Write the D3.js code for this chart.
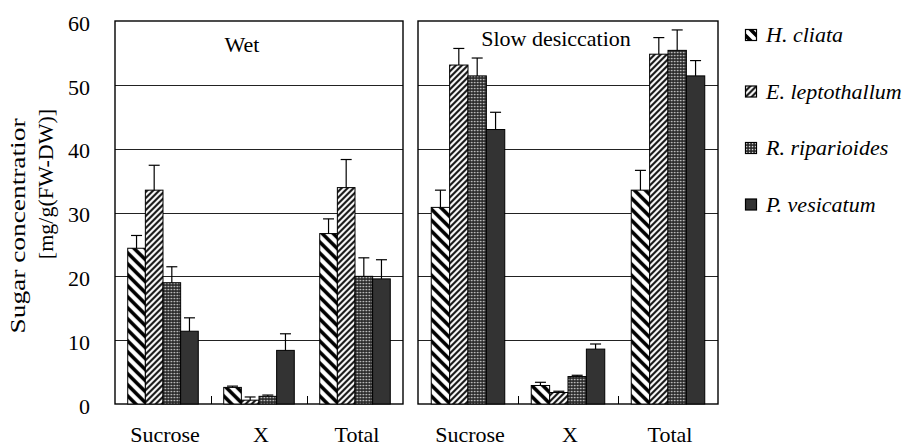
<!DOCTYPE html>
<html>
<head>
<meta charset="utf-8">
<script src="https://cdn.jsdelivr.net/npm/d3@7"></script>
<style>
  body { margin: 0; background: #fff; }
  svg text { font-family: "Liberation Serif", "DejaVu Serif", serif !important; fill: #000; }
</style>
</head>
<body>
<svg width="910" height="448"></svg>
<script>
/* data */
const categories = ["Sucrose", "X", "Total"];
const species = ["H. cliata", "E. leptothallum", "R. riparioides", "P. vesicatum"];
const panelTitles = ["Wet", "Slow desiccation"];
const yTicks = [0, 10, 20, 30, 40, 50, 60];

// one row per category, one value per species
const wetMeans   = [[24.4, 33.5, 19.0, 11.4], [2.6, 0.6, 1.2, 8.4], [26.7, 33.9, 20.0, 19.6]];
const wetErrors  = [[2.0, 3.9, 2.5, 2.1], [0.2, 0.5, 0.2, 2.6], [2.3, 4.4, 2.9, 3.0]];
const slowMeans  = [[30.8, 53.1, 51.4, 43.0], [2.9, 1.8, 4.3, 8.6], [33.5, 54.8, 55.4, 51.4]];
const slowErrors = [[2.7, 2.6, 2.8, 2.7], [0.5, 0.2, 0.2, 0.8], [3.1, 2.6, 3.2, 2.4]];

/* basic setup */
const svg = d3.select("svg");
const y = d3.scaleLinear().domain([0, 60]).range([404, 21]);
const px = v => Math.round(v) + 0.5;
const serif = "'Liberation Serif', 'DejaVu Serif', serif";

// fill patterns for the four species
const defs = svg.append("defs");
let p = defs.append("pattern").attr("id", "pat0").attr("patternUnits", "userSpaceOnUse")
    .attr("width", 11).attr("height", 11);
p.append("rect").attr("width", 11).attr("height", 11).attr("fill", "#fff");
p.append("path").attr("d", "M0,0L11,11M-5.5,5.5L5.5,16.5M5.5,-5.5L16.5,5.5")
    .attr("stroke", "#000").attr("stroke-width", 3.6);

p = defs.append("pattern").attr("id", "pat1").attr("patternUnits", "userSpaceOnUse")
    .attr("width", 6).attr("height", 6);
p.append("rect").attr("width", 6).attr("height", 6).attr("fill", "#fff");
p.append("path").attr("d", "M0,6L6,0M-3,3L3,-3M3,9L9,3")
    .attr("stroke", "#111").attr("stroke-width", 2.1);

p = defs.append("pattern").attr("id", "pat2").attr("patternUnits", "userSpaceOnUse")
    .attr("width", 3).attr("height", 3);
p.append("rect").attr("width", 3).attr("height", 3).attr("fill", "#222");
p.append("rect").attr("x", 0.8).attr("y", 0.8).attr("width", 1.5).attr("height", 1.5).attr("fill", "#ddd");

p = defs.append("pattern").attr("id", "pat3").attr("patternUnits", "userSpaceOnUse")
    .attr("width", 4).attr("height", 4);
p.append("rect").attr("width", 4).attr("height", 4).attr("fill", "#333");

/* panels */
const panels = [
  { title: panelTitles[0], means: wetMeans, errs: wetErrors, left: 115, right: 403, tx: 242, ty: 52 },
  { title: panelTitles[1], means: slowMeans, errs: slowErrors, left: 418, right: 718, tx: 556, ty: 46 }
];

panels.forEach(function(pn, k) {
  const g = svg.append("g");

  const x0 = d3.scaleBand().domain(categories).range([pn.left, pn.right])
      .paddingInner(0.265).paddingOuter(0.1325);
  const x1 = d3.scaleBand().domain(species).range([0, x0.bandwidth()]);

  // gridlines
  g.selectAll("line.grid")
    .data(yTicks.filter(d => d > 0 && d < 60))
    .enter().append("line")
    .attr("x1", pn.left).attr("x2", pn.right)
    .attr("y1", d => px(y(d))).attr("y2", d => px(y(d)))
    .attr("stroke", "#222").attr("stroke-width", 1);

  // frame
  g.append("rect")
    .attr("x", pn.left).attr("y", y(60))
    .attr("width", pn.right - pn.left).attr("height", y(0) - y(60))
    .attr("fill", "none").attr("stroke", "#000").attr("stroke-width", 1.4);

  // small ticks between categories
  g.selectAll("line.ctick")
    .data(categories.slice(1))
    .enter().append("line")
    .attr("x1", d => px(x0(d) - x0.step() * x0.paddingInner() / 2))
    .attr("x2", d => px(x0(d) - x0.step() * x0.paddingInner() / 2))
    .attr("y1", y(0)).attr("y2", y(0) - 8)
    .attr("stroke", "#000").attr("stroke-width", 1);

  // bars
  categories.forEach(function(cat, i) {
    const cg = g.append("g").attr("transform", "translate(" + x0(cat) + ",0)");

    cg.selectAll("rect")
      .data(pn.means[i])
      .enter().append("rect")
      .attr("x", (d, j) => x1(species[j]))
      .attr("y", d => y(d))
      .attr("width", x1.bandwidth())
      .attr("height", d => y(0) - y(d))
      .attr("fill", (d, j) => "url(#pat" + j + ")")
      .attr("stroke", "#000").attr("stroke-width", 1);

    // error bars (upper only)
    const eb = cg.selectAll("g.err")
      .data(pn.means[i])
      .enter().append("g");
    eb.append("line")
      .attr("x1", (d, j) => x1(species[j]) + x1.bandwidth() / 2)
      .attr("x2", (d, j) => x1(species[j]) + x1.bandwidth() / 2)
      .attr("y1", d => y(d))
      .attr("y2", (d, j) => y(d + pn.errs[i][j]))
      .attr("stroke", "#000").attr("stroke-width", 1.2);
    eb.append("line")
      .attr("x1", (d, j) => x1(species[j]) + x1.bandwidth() / 2 - 5.5)
      .attr("x2", (d, j) => x1(species[j]) + x1.bandwidth() / 2 + 5.5)
      .attr("y1", (d, j) => y(d + pn.errs[i][j]))
      .attr("y2", (d, j) => y(d + pn.errs[i][j]))
      .attr("stroke", "#000").attr("stroke-width", 1.2);
  });

  // category labels
  g.selectAll("text.cat")
    .data(categories)
    .enter().append("text")
    .attr("x", d => x0(d) + x0.bandwidth() / 2 + 2)
    .attr("y", 442)
    .attr("text-anchor", "middle")
    .style("font-family", serif)
    .attr("font-size", 22)
    .text(d => d);

  // panel title
  g.append("text")
    .attr("x", pn.tx).attr("y", pn.ty)
    .attr("text-anchor", "middle")
    .style("font-family", serif)
    .attr("font-size", 22)
    .text(pn.title);
});

/* y axis */
const yAxis = svg.append("g")
  .attr("transform", "translate(115,0)")
  .call(d3.axisLeft(y).tickValues(yTicks).tickSize(0).tickPadding(25));
yAxis.attr("font-family", null).attr("font-size", null);
yAxis.select(".domain").remove();
yAxis.selectAll("text")
  .style("font-family", serif)
  .attr("font-size", 22)
  .attr("fill", "#000")
  .attr("dy", "0.42em");

svg.append("text")
  .attr("transform", "translate(25,226) rotate(-90)")
  .attr("text-anchor", "middle")
  .style("font-family", serif)
  .attr("font-size", 22)
  .attr("textLength", 215).attr("lengthAdjust", "spacingAndGlyphs")
  .text("Sugar concentratior");
svg.append("text")
  .attr("transform", "translate(53,184) rotate(-90)")
  .attr("text-anchor", "middle")
  .style("font-family", serif)
  .attr("font-size", 22)
  .text("[mg/g(FW-DW)]");

/* legend */
const legend = svg.selectAll("g.legend")
  .data(species)
  .enter().append("g")
  .attr("transform", (d, i) => "translate(745," + (35 + i * 56.5) + ")");
legend.append("rect")
  .attr("x", 0.5).attr("y", -5.5)
  .attr("width", 11).attr("height", 11)
  .attr("fill", (d, i) => "url(#pat" + i + ")")
  .attr("stroke", "#000").attr("stroke-width", 1.2);
legend.append("text")
  .attr("x", 21).attr("y", 7)
  .style("font-family", serif)
  .style("font-style", "italic")
  .attr("font-size", 22)
  .text(d => d);
</script>
</body>
</html>
